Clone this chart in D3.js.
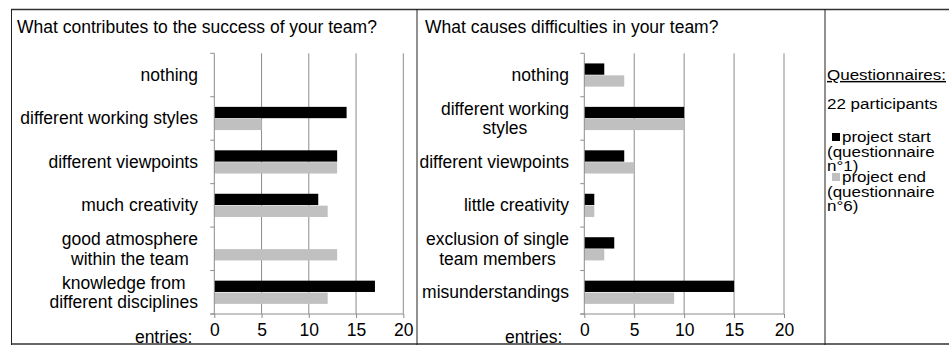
<!DOCTYPE html>
<html>
<head>
<meta charset="utf-8">
<script src="https://cdn.jsdelivr.net/npm/d3@7"></script>
<style>
	body { margin: 0; background: #fff; }
	text { font-family: "Liberation Sans", Arial, sans-serif; fill: #000; }
</style>
</head>
<body>
<script>
(function() {

	// data
	var seriesKeys = ['start', 'end'];
	var seriesColors = ['#000000', '#c0c0c0'];

	var successTitle = 'What contributes to the success of your team?';
	var successCategories = ['nothing', 'different working styles', 'different viewpoints', 'much creativity',
		'good atmosphere\nwithin the team', 'knowledge from\ndifferent disciplines'];
	var successStart = [0, 14, 13, 11, 0, 17];
	var successEnd = [0, 5, 13, 12, 13, 12];

	var difficultyTitle = 'What causes difficulties in your team?';
	var difficultyCategories = ['nothing', 'different working\nstyles', 'different viewpoints', 'little creativity',
		'exclusion of single\nteam members', 'misunderstandings'];
	var difficultyStart = [2, 10, 4, 1, 3, 15];
	var difficultyEnd = [4, 10, 5, 1, 2, 9];

	var xTicks = [0, 5, 10, 15, 20];
	var legendLines = ['22 participants'];
	var legendItems = [['project start', '(questionnaire', 'n°1)'], ['project end', '(questionnaire', 'n°6)']];

	var _width = 949;
	var _height = 346;
	var _fontSize = 17.5;

	var svg = d3.select('body').append('svg')
		.attr('width', _width)
		.attr('height', _height);

	// frames
	var frame = svg.append('g').attr('fill', 'none');
	frame.append('line').attr('x1', 11).attr('y1', 9.5).attr('x2', 949).attr('y2', 9.5)
		.attr('stroke', '#333').attr('stroke-width', 1.5);
	frame.append('line').attr('x1', 11).attr('y1', 344).attr('x2', 949).attr('y2', 344)
		.attr('stroke', '#666').attr('stroke-width', 2);
	[11.5, 417, 825].forEach(function(x) {
		frame.append('line').attr('x1', x).attr('y1', 9).attr('x2', x).attr('y2', 345)
			.attr('stroke', '#222').attr('stroke-width', 1);
	});

	function drawChart(title, categories, start, end, left, x0, x1, labelRight) {
		var g = svg.append('g');

		g.append('text')
			.attr('x', left)
			.attr('y', 33)
			.style('font-size', _fontSize + 'px')
			.text(title);

		var rows = categories.map(function(c, i) {
			return { cat: c, start: start[i], end: end[i] };
		});

		var x = d3.scaleLinear().domain([0, 20]).range([x0, x1]);
		var y = d3.scaleBand().domain(categories).range([53.3, 314]);
		var yInner = d3.scaleBand().domain(seriesKeys).range([0, y.bandwidth()])
			.paddingInner(0.05).paddingOuter(0.85);

		// grid
		g.selectAll('line.grid')
			.data(xTicks.slice(1))
			.enter()
			.append('line')
			.attr('class', 'grid')
			.attr('x1', function(d) { return x(d); })
			.attr('x2', function(d) { return x(d); })
			.attr('y1', 53.3)
			.attr('y2', 314)
			.attr('stroke', '#8c8c8c')
			.attr('stroke-width', 1);

		// bars
		var groups = g.selectAll('g.row')
			.data(rows)
			.enter()
			.append('g')
			.attr('class', 'row')
			.attr('transform', function(d) { return 'translate(0,' + y(d.cat) + ')'; });

		seriesKeys.forEach(function(key, k) {
			groups.append('rect')
				.attr('x', x(0))
				.attr('y', yInner(key))
				.attr('width', function(d) { return x(d[key]) - x(0); })
				.attr('height', yInner.bandwidth())
				.attr('fill', seriesColors[k]);
		});

		// y axis line and ticks between categories
		g.append('line')
			.attr('x1', x(0)).attr('x2', x(0))
			.attr('y1', 53.3).attr('y2', 314)
			.attr('stroke', '#8c8c8c');
		var bounds = categories.map(function(c) { return y(c); }).concat([314]);
		g.selectAll('line.ytick')
			.data(bounds)
			.enter()
			.append('line')
			.attr('class', 'ytick')
			.attr('x1', x(0) - 4).attr('x2', x(0))
			.attr('y1', function(d) { return d; })
			.attr('y2', function(d) { return d; })
			.attr('stroke', '#8c8c8c');

		// x axis
		var xAxis = g.append('g')
			.attr('transform', 'translate(0,314)')
			.call(d3.axisBottom(x).tickValues(xTicks).tickSize(4).tickPadding(6));
		xAxis.select('.domain').attr('stroke', '#8c8c8c').attr('d', 'M' + (x(0) - 4) + ',0H' + x(20));
		xAxis.selectAll('.tick line').attr('stroke', '#8c8c8c');
		xAxis.selectAll('.tick text')
			.style('font-size', _fontSize + 'px')
			.style('font-family', '"Liberation Sans", Arial, sans-serif')
			.attr('fill', '#000');

		g.append('text')
			.attr('x', x(0) - 22)
			.attr('y', 343)
			.attr('text-anchor', 'end')
			.style('font-size', _fontSize + 'px')
			.text('entries:');

		// category labels
		rows.forEach(function(d) {
			var lines = d.cat.split('\n');
			var cy = y(d.cat) + y.bandwidth() / 2;
			var lh = 19.5;
			var t = g.append('text')
				.attr('text-anchor', 'middle')
				.style('font-size', _fontSize + 'px');
			var spans = lines.map(function(line, i) {
				return t.append('tspan')
					.attr('y', cy + (i - (lines.length - 1) / 2) * lh + 6)
					.text(line);
			});
			var w = d3.max(spans, function(s) { return s.node().getComputedTextLength(); });
			spans.forEach(function(s) { s.attr('x', labelRight - w / 2); });
		});
	}

	drawChart(successTitle, successCategories, successStart, successEnd, 17, 214.3, 403.3, 198);
	drawChart(difficultyTitle, difficultyCategories, difficultyStart, difficultyEnd, 425, 584.3, 784, 569);

	// legend (glyphs a bit squashed vertically, as in the source)
	var lg = svg.append('g').style('font-size', '17px');
	function legendText(x, y, s) {
		return lg.append('text')
			.attr('transform', 'translate(' + x + ',' + y + ') scale(1,0.86)')
			.text(s);
	}
	legendText(827, 80, 'Questionnaires:').attr('text-decoration', 'underline');
	legendText(827, 109, legendLines[0]);

	var itemTop = [142, 182];
	legendItems.forEach(function(item, i) {
		lg.append('rect')
			.attr('x', 832)
			.attr('y', itemTop[i] - 9)
			.attr('width', 8)
			.attr('height', 8)
			.attr('fill', seriesColors[i]);
		item.forEach(function(line, j) {
			legendText(j === 0 ? 842 : 827, itemTop[i] + j * 14.5, line);
		});
	});

})();
</script>
</body>
</html>
